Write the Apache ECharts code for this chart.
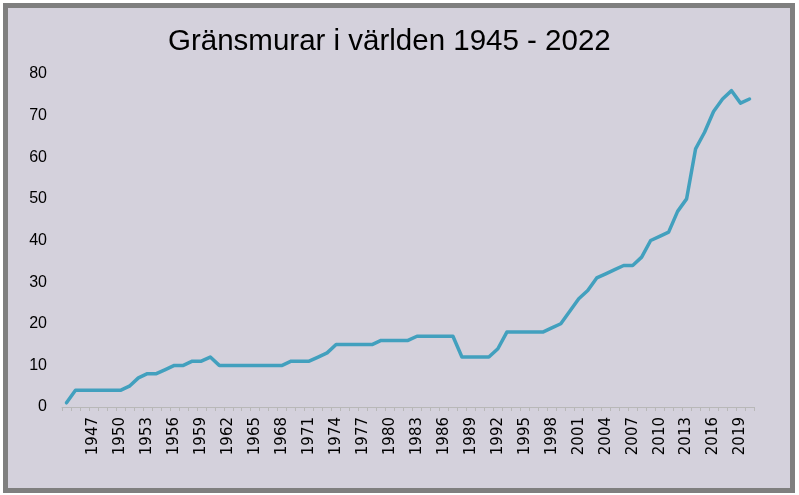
<!DOCTYPE html>
<html>
<head>
<meta charset="utf-8">
<script src="https://cdn.jsdelivr.net/npm/echarts@6/dist/echarts.min.js"></script>
<style>
html,body{margin:0;padding:0;background:#ffffff;}
#frame{position:absolute;left:3px;top:3px;width:782px;height:480px;border:5px solid #7f7f7f;background:#d4d1dc;}
#chart{position:absolute;left:0;top:0;width:799px;height:495px;}
</style>
</head>
<body>
<div id="frame"></div>
<div id="chart"></div>
<script>
// Categories (years); first category has no visible label in the original
const years = [];
for (let y = 1944; y <= 2020; y++) years.push(String(y));

const walls = [
  1, 4, 4, 4, 4, 4, 4, 5, 7, 8,        // 1944-1953
  8, 9, 10, 10, 11, 11, 12, 10, 10, 10, // 1954-1963
  10, 10, 10, 10, 10, 11, 11, 11, 12, 13, // 1964-1973
  15, 15, 15, 15, 15, 16, 16, 16, 16, 17, // 1974-1983
  17, 17, 17, 17, 12, 12, 12, 12, 14, 18, // 1984-1993
  18, 18, 18, 18, 19, 20, 23, 26, 28, 31, // 1994-2003
  32, 33, 34, 34, 36, 40, 41, 42, 47, 50, // 2004-2013
  62, 66, 71, 74, 76, 73, 74             // 2014-2020
];

const yTicks = { min: 0, max: 80, interval: 10 };
const titleText = 'Gränsmurar i världen 1945 - 2022';

const chart = echarts.init(document.getElementById('chart'), null, { renderer: 'canvas' });
chart.setOption({
  backgroundColor: 'transparent',
  animation: false,
  title: {
    text: titleText,
    left: 163,
    top: 22,
    textStyle: { fontFamily: 'Liberation Sans, Arial, sans-serif', fontSize: 29.5, fontWeight: 'normal', color: '#000000' }
  },
  grid: { left: 62, right: 45, top: 74, bottom: 88, containLabel: false },
  xAxis: {
    type: 'category',
    data: years,
    boundaryGap: true,
    axisLine: { show: true, lineStyle: { color: '#b8b8b8', width: 1 } },
    axisTick: { show: true, interval: 0, length: 4, lineStyle: { color: '#b8b8b8' } },
    axisLabel: {
      rotate: 90,
      margin: 10,
      interval: function (i) { return i > 0 && i % 3 === 0; },
      fontFamily: 'DejaVu Sans, sans-serif',
      fontSize: 15,
      color: '#000000'
    },
    splitLine: { show: false }
  },
  yAxis: {
    type: 'value',
    min: yTicks.min,
    max: yTicks.max,
    interval: yTicks.interval,
    axisLine: { show: false },
    axisTick: { show: false },
    splitLine: { show: false },
    axisLabel: {
      margin: 15,
      fontFamily: 'Liberation Sans, Arial, sans-serif',
      fontSize: 16,
      color: '#000000'
    }
  },
  series: [{
    type: 'line',
    data: walls,
    showSymbol: false,
    symbol: 'none',
    lineStyle: { color: '#42a0be', width: 3.5, join: 'round', cap: 'round' },
    itemStyle: { color: '#42a0be' }
  }]
});
</script>
</body>
</html>
